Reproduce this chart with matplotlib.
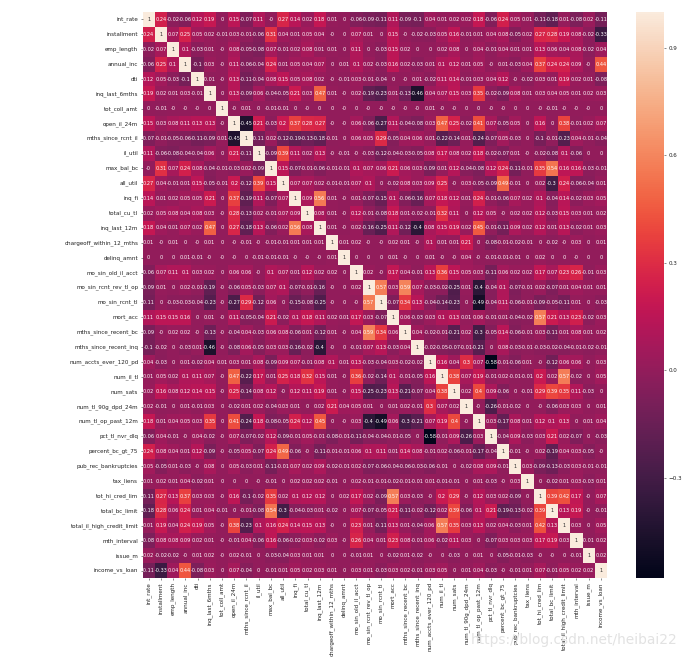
"""Correlation heatmap of the loan features."""

import matplotlib
matplotlib.use('Agg')
import matplotlib.pyplot as plt
import numpy as np
import seaborn as sns

FEATURES = [
    'int_rate', 'installment', 'emp_length', 'annual_inc', 'dti',
    'inq_last_6mths', 'tot_coll_amt', 'open_il_24m', 'mths_since_rcnt_il',
    'il_util', 'max_bal_bc', 'all_util', 'inq_fi', 'total_cu_tl',
    'inq_last_12m', 'chargeoff_within_12_mths', 'delinq_amnt',
    'mo_sin_old_il_acct', 'mo_sin_rcnt_rev_tl_op', 'mo_sin_rcnt_tl',
    'mort_acc', 'mths_since_recent_bc', 'mths_since_recent_inq',
    'num_accts_ever_120_pd', 'num_il_tl', 'num_sats', 'num_tl_90g_dpd_24m',
    'num_tl_op_past_12m', 'pct_tl_nvr_dlq', 'percent_bc_gt_75',
    'pub_rec_bankruptcies', 'tax_liens', 'tot_hi_cred_lim', 'total_bc_limit',
    'total_il_high_credit_limit', 'mth_interval', 'issue_m', 'income_vs_loan',
]

# upper triangle, each row starts on the diagonal; -0.0 is kept because the
# cells print "-0" for small negative correlations
UPPER_ROWS = [
    [1, .24, -.02, -.06, .12, .19, 0, .15, -.07, .11, -0.0, .27, .14, .02, .18, .01, 0, -.06, -.09, -.11, .11, -.09, -.1, .04, .01, .02, .02, .18, -.06, .24, .05, .01, -.11, -.18, .01, -.08, .02, -.11],
    [1, .07, .25, .05, .02, -.01, .03, -.01, -.06, .31, .04, .01, .05, .04, -0.0, 0, .07, .01, 0, .15, -0.0, -.02, -.03, .05, .16, -.01, .01, .04, .08, -.05, .02, .27, .28, .19, .08, -.02, -.33],
    [1, .1, -.03, .01, -0.0, .08, -.05, -.08, .07, -.01, .02, .08, .01, .01, 0, .11, 0, -.03, .15, .02, 0, 0, .02, .08, 0, .04, -.01, .04, .01, .01, .13, .06, .04, .08, -.02, .04],
    [1, -.1, .03, -0.0, .11, -.06, -.04, .24, .01, .05, .04, .07, 0, .01, .1, .02, -.03, .16, .02, -.03, .01, .1, .12, .01, .05, -0.0, .01, -.03, .04, .37, .24, .24, .09, -0.0, .44],
    [1, -.01, -0.0, .13, -.11, -.04, .08, .15, .05, .08, .02, -0.0, -.01, .03, -.01, -.04, 0, -0.0, .01, -.02, .11, .14, -.01, .03, .04, .12, -0.0, -.02, .03, .01, .19, .02, .01, -.08],
    [1, 0, .13, -.09, .06, -.04, -.05, .21, .03, .47, .01, -0.0, .02, -.19, -.23, .01, -.13, -.46, .04, .07, .15, .03, .35, -.02, -.09, .08, .01, .03, .04, .05, .01, .02, .03],
    [1, -0.0, .01, 0, -.01, -.01, 0, -0.0, 0, 0, -0.0, 0, -0.0, -0.0, -0.0, -0.0, -0.0, .01, -0.0, -0.0, 0, 0, -0.0, -0.0, 0, 0, -0.0, -.01, -0.0, -0.0, -0.0, 0],
    [1, -.45, .21, -.03, .2, .37, .28, .27, -0.0, -0.0, .06, -.06, -.27, .11, -.04, -.08, .03, .47, .25, -.02, .41, .07, -.05, .05, 0, .16, 0, .38, -.01, .02, .07],
    [1, -.11, .02, -.12, -.19, -.13, -.18, -.01, 0, .06, .05, .29, -.05, .04, .06, .01, -.22, -.14, .01, -.24, -.07, .05, -.03, 0, -.1, -.01, -.23, .04, -.01, -.04],
    [1, -.09, .39, .11, .02, .13, -0.0, -.01, -0.0, -.03, -.12, -.04, -.03, -.05, .08, .17, .08, .02, .18, -.02, -.07, .01, -0.0, -.02, -.08, .1, -.06, 0, 0],
    [1, .15, -.07, -.01, -.06, -.01, -.01, .1, .07, .06, .21, .06, .03, -.09, .01, .12, -.04, -.08, .12, .24, -.11, -.01, .35, .54, .16, .16, -.03, -.01],
    [1, .07, .07, .02, -.01, -.01, .07, .1, 0, -.02, .08, .03, .09, .25, -0.0, .03, -.05, -.09, .49, -.01, 0, .02, -.3, .24, -.06, -.04, .01],
    [1, .09, .56, .01, -0.0, .01, -.07, -.15, .1, -.06, -.16, .07, .18, .12, .01, .24, -.01, -.06, .07, .02, .1, -.04, .14, -.02, .03, .05],
    [1, .08, .01, -0.0, .12, -.01, -.08, .18, .01, -.02, -.01, .32, .11, 0, .12, .05, -0.0, .02, .02, .12, -.03, .15, .03, .01, .02],
    [1, .01, -0.0, .02, -.16, -.25, .11, -.12, -.4, .08, .15, .19, .02, .45, -.01, -.11, .09, .02, .12, .01, .13, -.02, .01, .03],
    [1, .01, .02, -0.0, -0.0, .02, .01, -0.0, .1, .01, .01, .21, 0, -.08, -.01, -.02, -.01, 0, -.02, -0.0, .03, 0, .01],
    [1, 0, 0, 0, .01, -0.0, 0, .01, -0.0, -0.0, .04, -0.0, -.01, -.01, -.01, 0, .02, 0, 0, -0.0, 0, 0],
    [1, .02, -0.0, .17, .04, -.01, .13, .36, .15, .05, .03, -.11, .06, .02, .02, .17, .07, .23, .26, -.01, .03],
    [1, .57, .03, .59, .07, -.03, -.02, -.25, .01, -.4, -.04, .1, -.07, -.01, .02, -.07, .01, .04, .01, .01],
    [1, -.07, .34, .13, -.04, -.14, -.23, 0, -.49, -.04, .11, -.06, -.01, -.09, -.05, -.11, .01, 0, -.03],
    [1, .06, -.03, .03, .1, .13, .01, .06, -.01, .01, -.04, -.02, .57, .21, .13, .23, -.02, .03],
    [1, .04, -.02, -.01, -.21, .02, -.3, -.05, .14, -.06, -.01, .03, -.11, .01, .08, .01, .02],
    [1, -.02, -.05, -.07, -.01, -.21, 0, .08, -.03, -.01, -.03, -.02, -.04, -.01, -.02, -.01],
    [1, .16, .04, .3, .07, -.58, -.01, -.06, .01, -0.0, -.12, .06, .06, -0.0, .03],
    [1, .38, .07, .19, -.01, .02, -.01, -.01, .2, .02, .57, -.02, 0, .05],
    [1, .02, .4, .09, -.06, 0, -.01, .29, .39, .35, .11, -.03, 0],
    [1, -0.0, -.26, -.01, -.02, 0, -0.0, -.06, .03, .03, 0, .01],
    [1, .03, -.17, .08, .01, .12, .1, .13, 0, .01, .04],
    [1, -.04, .09, -.03, .03, .21, .02, -.07, 0, -.03],
    [1, -.01, -0.0, .02, -.19, .04, .03, -.05, -0.0],
    [1, .03, -.09, -.13, -.03, .03, -.01, -.01],
    [1, 0, -.02, .01, .03, -.03, .01],
    [1, .39, .42, .17, -0.0, .07],
    [1, .13, .19, -0.0, -.01],
    [1, .03, 0, .05],
    [1, -.01, .02],
    [1, .02],
    [1],
]
CBAR_TICKS = [-0.3, 0.0, 0.3, 0.6, 0.9]
WATERMARK = 'https://blog.csdn.net/heibai22'


def full_matrix(rows):
    size = len(rows)
    matrix = np.zeros((size, size))
    for index, row in enumerate(rows):
        matrix[index, index:] = row
        matrix[index:, index] = row
    return matrix


def main():
    corr = full_matrix(UPPER_ROWS)
    fig = plt.figure(figsize=(6.87, 6.58), dpi=100)
    W, H = 687, 658
    ax = fig.add_axes([142.5 / W, 1 - 578 / H, 464.5 / W, 566 / H])
    cax = fig.add_axes([636 / W, 1 - 578 / H, 28 / W, 566 / H])
    sns.heatmap(
        corr,
        ax=ax,
        cbar_ax=cax,
        annot=True,
        fmt='.2g',
        annot_kws={'fontsize': 3.6},
        vmin=-0.58,
        vmax=1,
        xticklabels=FEATURES,
        yticklabels=FEATURES,
    )
    ax.tick_params(axis='both', labelsize=4.1, length=1.5, width=0.4,
                   pad=1.5, labelcolor='#222222', color='#333333')
    ax.tick_params(axis='x', labelrotation=90)
    ax.tick_params(axis='y', labelrotation=0)

    cax.set_yticks(CBAR_TICKS)
    cax.tick_params(labelsize=4.1, length=1.5, width=0.4, pad=1.5,
                    labelcolor='#222222', color='#333333')

    # hinted widths jump between sizes, so pin the watermark width directly
    mark = fig.text(470 / W, 1 - 640 / H, WATERMARK, fontsize=10.8,
                    color='#e2e2e2', ha='left', va='center')
    fig.canvas.draw()
    width = mark.get_window_extent().width
    mark.set_fontsize(10.8 * 208 / width)
    mark.set_x(678 / W)
    mark.set_ha('right')
    fig.savefig('out.png', dpi=100)


if __name__ == '__main__':
    main()
